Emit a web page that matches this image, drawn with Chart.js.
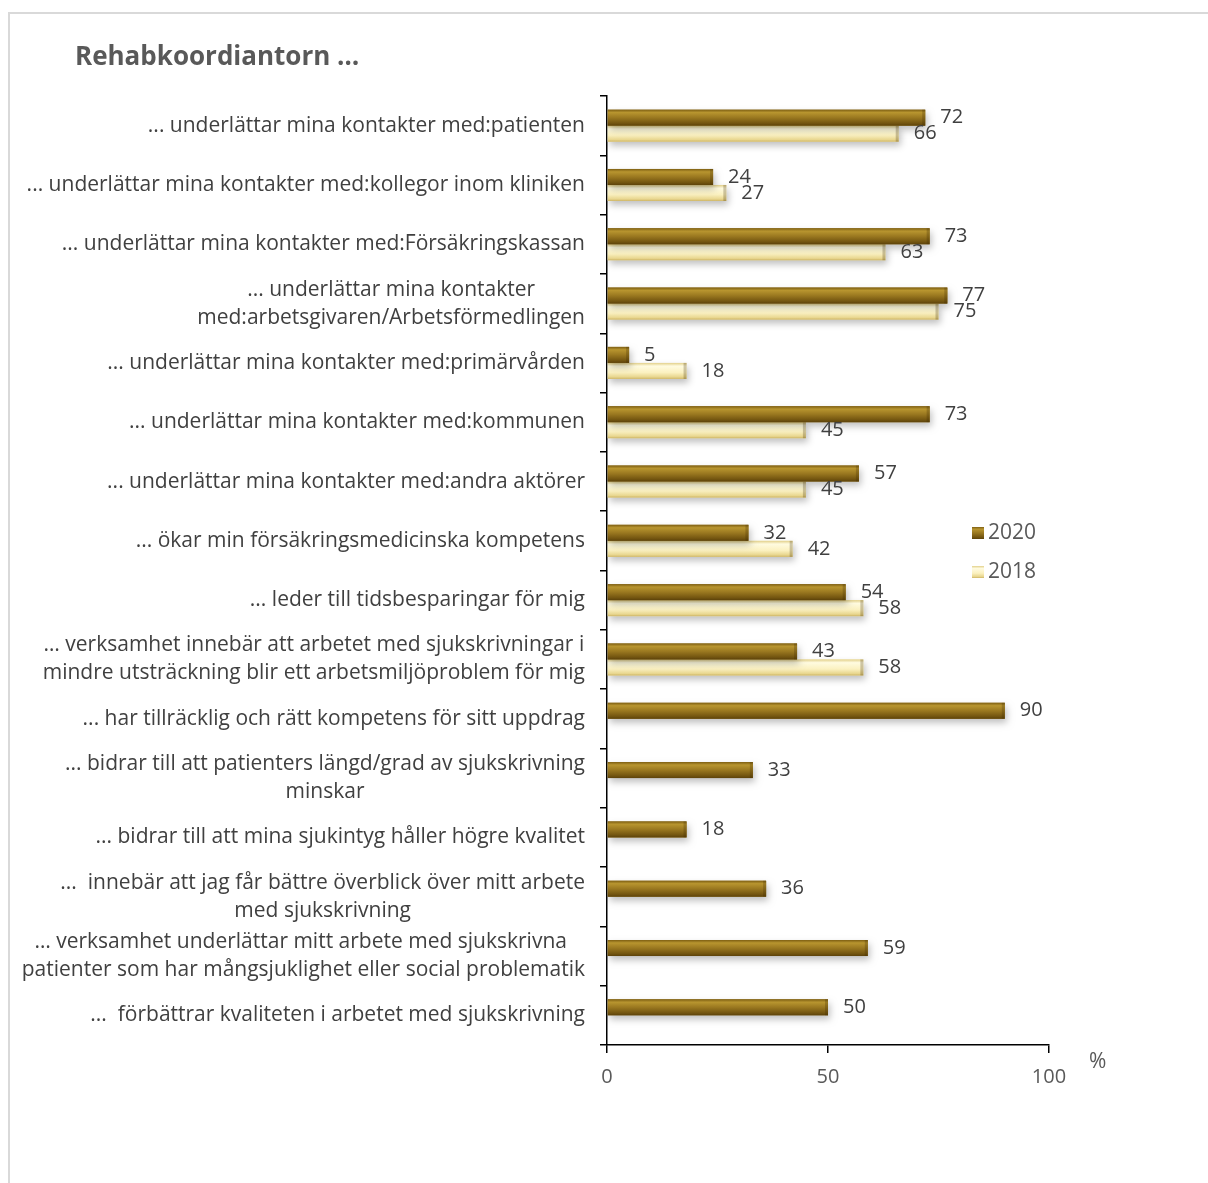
<!DOCTYPE html>
<html>
<head>
<meta charset="utf-8">
<script src="https://cdn.jsdelivr.net/npm/chart.js@4/dist/chart.umd.min.js"></script>
<style>
  body { margin: 0; background: #fff; }
  #wrap { width: 1208px; height: 1183px; }
</style>
</head>
<body>
<div id="wrap"><canvas id="grafico" width="1208" height="1183"></canvas></div>
<script>
const categorias = [
  '... underlättar mina kontakter med:patienten',
  '... underlättar mina kontakter med:kollegor inom kliniken',
  '... underlättar mina kontakter med:Försäkringskassan',
  ['... underlättar mina kontakter', 'med:arbetsgivaren/Arbetsförmedlingen'],
  '... underlättar mina kontakter med:primärvården',
  '... underlättar mina kontakter med:kommunen',
  '... underlättar mina kontakter med:andra aktörer',
  '... ökar min försäkringsmedicinska kompetens',
  '... leder till tidsbesparingar för mig',
  ['… verksamhet innebär att arbetet med sjukskrivningar i', 'mindre utsträckning blir ett arbetsmiljöproblem för mig'],
  '... har tillräcklig och rätt kompetens för sitt uppdrag',
  ['... bidrar till att patienters längd/grad av sjukskrivning', 'minskar'],
  '... bidrar till att mina sjukintyg håller högre kvalitet',
  ['...  innebär att jag får bättre överblick över mitt arbete', 'med sjukskrivning'],
  ['… verksamhet underlättar mitt arbete med sjukskrivna ', 'patienter som har mångsjuklighet eller social problematik'],
  '...  förbättrar kvaliteten i arbetet med sjukskrivning'
];
const valores2020 = [72, 24, 73, 77, 5, 73, 57, 32, 54, 43, 90, 33, 18, 36, 59, 50];
const valores2018 = [66, 27, 63, 75, 18, 45, 45, 42, 58, 58, null, null, null, null, null, null];
const ticksX = [0, 50, 100];
const titulo = 'Rehabkoordiantorn …';

const fonte = '"Open Sans", "DejaVu Sans", sans-serif';
const corTexto = '#404040';

function gradiente(ctx, ano, top, h) {
  const g = ctx.createLinearGradient(0, top, 0, top + h);
  if (ano === '2020') {
    g.addColorStop(0, '#7d5e12');
    g.addColorStop(0.18, '#b8952f');
    g.addColorStop(0.5, '#9a7820');
    g.addColorStop(0.85, '#735510');
    g.addColorStop(1, '#5c420a');
  } else {
    g.addColorStop(0, '#e2d08a');
    g.addColorStop(0.2, '#fffbe0');
    g.addColorStop(0.6, '#fbf1c0');
    g.addColorStop(0.88, '#e8d68e');
    g.addColorStop(1, '#cdb464');
  }
  return g;
}

const efeitoBarras = {
  id: 'efeitoBarras',
  beforeDatasetDraw(chart) {
    const ctx = chart.ctx;
    ctx.save();
    ctx.shadowColor = 'rgba(0,0,0,0.25)';
    ctx.shadowBlur = 7;
    ctx.shadowOffsetX = 2;
    ctx.shadowOffsetY = 4;
  },
  afterDatasetDraw(chart, args) {
    const ctx = chart.ctx;
    ctx.restore();
    const ds = chart.data.datasets[args.index];
    args.meta.data.forEach((bar, i) => {
      if (ds.data[i] == null) return;
      const p = bar.getProps(['x', 'y', 'base', 'height'], true);
      const esq = Math.min(p.x, p.base), dir = Math.max(p.x, p.base);
      const top = p.y - p.height / 2;
      ctx.fillStyle = gradiente(ctx, ds.label, top, p.height);
      ctx.fillRect(esq, top, dir - esq, p.height);
      ctx.fillStyle = 'rgba(60,40,0,0.25)';
      ctx.fillRect(dir - 3, top, 3, p.height);
    });
  },
  afterDatasetsDraw(chart) {
    const ctx = chart.ctx;
    ctx.save();
    ctx.font = '20px ' + fonte;
    ctx.fillStyle = corTexto;
    ctx.textBaseline = 'middle';
    ctx.textAlign = 'left';
    chart.data.datasets.forEach((ds, d) => {
      chart.getDatasetMeta(d).data.forEach((bar, i) => {
        if (ds.data[i] == null) return;
        ctx.fillText(String(ds.data[i]), bar.x + 15, bar.y);
      });
    });
    ctx.restore();
  }
};

const textos = {
  id: 'textos',
  beforeDraw(chart) {
    const ctx = chart.ctx;
    ctx.save();
    ctx.fillStyle = '#fff';
    ctx.fillRect(0, 0, chart.width, chart.height);
    ctx.strokeStyle = '#d9d9d9';
    ctx.lineWidth = 2;
    ctx.beginPath();
    ctx.moveTo(9, chart.height);
    ctx.lineTo(9, 13);
    ctx.lineTo(chart.width, 13);
    ctx.stroke();
    ctx.restore();
  },
  afterDraw(chart) {
    const ctx = chart.ctx;
    const y = chart.scales.y, x = chart.scales.x;
    ctx.save();
    // titulo
    ctx.font = 'bold 26px ' + fonte;
    ctx.fillStyle = '#595959';
    ctx.textBaseline = 'middle';
    ctx.textAlign = 'left';
    ctx.fillText(titulo, 75, 58);
    // rotulos das categorias
    ctx.font = '21px ' + fonte;
    ctx.fillStyle = corTexto;
    ctx.textAlign = 'center';
    const alturaLinha = 28;
    categorias.forEach((lab, i) => {
      const linhas = Array.isArray(lab) ? lab : [lab];
      const larg = Math.max(...linhas.map(l => ctx.measureText(l).width));
      const cx = y.right - 7 - 15 - larg / 2;
      const cy = y.getPixelForTick(i);
      linhas.forEach((l, k) => {
        ctx.fillText(l, cx, cy + (k - (linhas.length - 1) / 2) * alturaLinha);
      });
    });
    // unidade
    ctx.font = '21px ' + fonte;
    ctx.fillStyle = '#595959';
    ctx.textAlign = 'left';
    ctx.fillText('%', x.right + 40, x.top + 17);
    // legenda
    const legenda = chart.data.datasets;
    legenda.forEach((ds, k) => {
      const ly = chart.chartArea.top + 437 + k * 39;
      const lx = x.right - 77;
      ctx.fillStyle = gradiente(ctx, ds.label, ly - 6, 12);
      ctx.fillRect(lx, ly - 6, 12, 12);
      ctx.fillStyle = '#595959';
      ctx.font = '21px ' + fonte;
      ctx.textAlign = 'left';
      ctx.fillText(ds.label, lx + 16, ly);
    });
    ctx.restore();
  }
};

new Chart(document.getElementById('grafico'), {
  type: 'bar',
  data: {
    labels: categorias,
    datasets: [
      { label: '2020', data: valores2020, backgroundColor: '#9a7820' },
      { label: '2018', data: valores2018, backgroundColor: '#fbf1c0' }
    ]
  },
  options: {
    indexAxis: 'y',
    responsive: false,
    animation: false,
    events: [],
    categoryPercentage: 0.54,
    barPercentage: 1,
    layout: { padding: { top: 96, right: 159, bottom: 78, left: 0 } },
    plugins: {
      legend: { display: false },
      tooltip: { enabled: false }
    },
    scales: {
      x: {
        min: 0,
        max: 100,
        afterBuildTicks: (s) => { s.ticks = ticksX.map(v => ({ value: v })); },
        afterFit: (s) => { s.height = 60; },
        grid: { drawOnChartArea: false, tickLength: 8, color: '#000', lineWidth: 1.5 },
        border: { color: '#000', width: 1.5 },
        ticks: { font: { family: fonte, size: 20 }, color: '#595959', padding: 12, maxRotation: 0 }
      },
      y: {
        afterFit: (s) => { s.width = 607; },
        grid: { drawOnChartArea: false, tickLength: 7, color: '#000', lineWidth: 1.5 },
        border: { color: '#000', width: 1.5 },
        ticks: { display: false }
      }
    }
  },
  plugins: [efeitoBarras, textos]
});
</script>
</body>
</html>
